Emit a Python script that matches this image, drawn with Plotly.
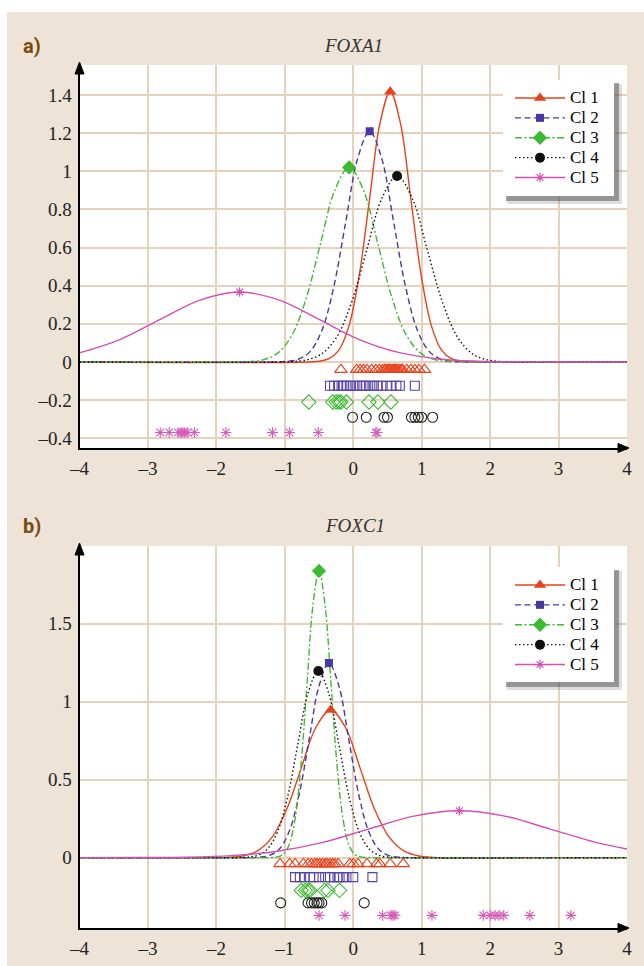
import plotly.graph_objects as go

W, H = 644, 966


def px(x):
    return x / W


def py(y):
    return 1 - y / H


# ---------------- data ----------------
clusters = ["Cl 1", "Cl 2", "Cl 3", "Cl 4", "Cl 5"]

x_ticks = [-4, -3, -2, -1, 0, 1, 2, 3, 4]
x_tick_text = ["–4", "–3", "–2", "–1", "0", "1", "2", "3", "4"]
a_y_ticks = [-0.4, -0.2, 0, 0.2, 0.4, 0.6, 0.8, 1, 1.2, 1.4]
a_y_tick_text = ["–0.4", "–0.2", "0", "0.2", "0.4", "0.6", "0.8", "1", "1.2", "1.4"]
b_y_ticks = [0, 0.5, 1, 1.5]
b_y_tick_text = ["0", "0.5", "1", "1.5"]

# Panel a (FOXA1) density curves
a_c1_x = [-4, -0.66, -0.51, -0.36, -0.21, -0.06, 0.09, 0.24, 0.39, 0.54, 0.69, 0.84, 0.99, 1.14, 1.29, 1.44, 1.59, 1.74, 4]
a_c1_y = [0, 0.0, 0.004, 0.016, 0.062, 0.192, 0.46, 0.859, 1.251, 1.417, 1.251, 0.859, 0.46, 0.192, 0.062, 0.016, 0.004, 0.0, 0]
a_c2_x = [-4, -1.16, -0.985, -0.81, -0.635, -0.46, -0.285, -0.11, 0.065, 0.24, 0.415, 0.59, 0.765, 0.94, 1.115, 1.29, 1.465, 1.64, 4]
a_c2_y = [0, 0.0, 0.003, 0.013, 0.053, 0.164, 0.393, 0.734, 1.068, 1.21, 1.068, 0.734, 0.393, 0.164, 0.053, 0.013, 0.003, 0.0, 0]
a_c3_x = [-4, -1.74, -1.53, -1.32, -1.11, -0.9, -0.69, -0.48, -0.27, -0.06, 0.15, 0.36, 0.57, 0.78, 0.99, 1.2, 1.41, 1.62, 4]
a_c3_y = [0, 0.0, 0.002, 0.011, 0.045, 0.138, 0.331, 0.619, 0.9, 1.02, 0.9, 0.619, 0.331, 0.138, 0.045, 0.011, 0.002, 0.0, 0]
a_c4_x = [-4, -1.12, -0.9, -0.68, -0.46, -0.24, -0.02, 0.2, 0.42, 0.64, 0.86, 1.08, 1.3, 1.52, 1.74, 1.96, 2.18, 2.4, 4]
a_c4_y = [0, 0.0, 0.002, 0.011, 0.043, 0.132, 0.317, 0.591, 0.86, 0.975, 0.86, 0.591, 0.317, 0.132, 0.043, 0.011, 0.002, 0.0, 0]
a_c5_x = [-4, -3.4, -2.82, -2.24, -1.66, -1.08, -0.5, 0.08, 0.66, 1.24, 1.82, 2.4, 2.98, 4]
a_c5_y = [0.048, 0.119, 0.223, 0.324, 0.367, 0.324, 0.223, 0.119, 0.05, 0.016, 0.004, 0.001, 0.0, 0]

# Panel a observations (rug rows)
a_p1 = [-0.18, 0.05, 0.1, 0.15, 0.2, 0.27, 0.33, 0.38, 0.43, 0.46, 0.48, 0.51, 0.53, 0.55, 0.58, 0.6,
        0.62, 0.64, 0.67, 0.7, 0.72, 0.78, 0.84, 0.9, 0.96, 1.04]
a_p2 = [-0.34, -0.28, -0.22, -0.17, -0.14, -0.1, -0.05, 0.0, 0.05, 0.1, 0.15, 0.19, 0.25, 0.3, 0.35,
        0.41, 0.49, 0.56, 0.63, 0.68, 0.9]
a_p3 = [-0.65, -0.3, -0.25, -0.21, -0.18, -0.1, 0.23, 0.36, 0.55]
a_p4 = [-0.01, 0.19, 0.45, 0.5, 0.85, 0.9, 0.95, 1.0, 1.16]
a_p5 = [-2.82, -2.69, -2.56, -2.52, -2.49, -2.46, -2.42, -2.32, -1.86, -1.18, -0.93, -0.51, 0.33, 0.35]

# Panel b (FOXC1) density curves
b_c1_x = [-4, -2.05, -1.835, -1.62, -1.405, -1.19, -0.975, -0.76, -0.545, -0.33, -0.115, 0.1, 0.315, 0.53, 0.745, 0.96, 1.175, 1.39, 4]
b_c1_y = [0, 0.0, 0.002, 0.011, 0.042, 0.128, 0.307, 0.574, 0.836, 0.947, 0.836, 0.574, 0.307, 0.128, 0.042, 0.011, 0.002, 0.0, 0]
b_c2_x = [-4, -1.515, -1.37, -1.225, -1.08, -0.935, -0.79, -0.645, -0.5, -0.355, -0.21, -0.065, 0.08, 0.225, 0.37, 0.515, 0.66, 0.805, 4]
b_c2_y = [0, 0.0, 0.003, 0.014, 0.055, 0.169, 0.405, 0.757, 1.101, 1.248, 1.101, 0.757, 0.405, 0.169, 0.055, 0.014, 0.003, 0.0, 0]
b_c3_x = [-4, -1.2, -1.113, -1.025, -0.938, -0.85, -0.763, -0.675, -0.588, -0.5, -0.413, -0.325, -0.238, -0.15, -0.063, 0.025, 0.113, 0.2, 4]
b_c3_y = [0, 0.001, 0.004, 0.02, 0.081, 0.249, 0.597, 1.115, 1.622, 1.838, 1.622, 1.115, 0.597, 0.249, 0.081, 0.02, 0.004, 0.001, 0]
b_c4_x = [-4, -1.71, -1.56, -1.41, -1.26, -1.11, -0.96, -0.81, -0.66, -0.51, -0.36, -0.21, -0.06, 0.09, 0.24, 0.39, 0.54, 0.69, 4]
b_c4_y = [0, 0.0, 0.003, 0.013, 0.053, 0.162, 0.389, 0.726, 1.056, 1.197, 1.056, 0.726, 0.389, 0.162, 0.053, 0.013, 0.003, 0.0, 0]
b_c5_x = [-4, -3.105, -2.44, -1.775, -1.11, -0.445, 0.22, 0.885, 1.55, 2.215, 2.88, 3.545, 4]
b_c5_y = [0, 0.001, 0.003, 0.013, 0.041, 0.098, 0.183, 0.266, 0.301, 0.266, 0.183, 0.098, 0.055]

# Panel b observations (rug rows)
b_p1 = [-1.07, -0.93, -0.85, -0.73, -0.66, -0.61, -0.56, -0.53, -0.49, -0.45, -0.41, -0.38, -0.34,
        -0.3, -0.27, -0.22, -0.05, 0.0, 0.07, 0.2, 0.34, 0.39, 0.54, 0.73]
b_p2 = [-0.85, -0.78, -0.71, -0.63, -0.58, -0.5, -0.41, -0.34, -0.28, -0.23, -0.2, -0.15, -0.1, 0.0, 0.28]
b_p3 = [-0.76, -0.7, -0.66, -0.63, -0.42, -0.37, -0.2]
b_p4 = [-1.06, -0.66, -0.61, -0.57, -0.53, -0.5, -0.46, 0.16]
b_p5 = [-0.5, -0.12, 0.43, 0.55, 0.58, 0.61, 1.15, 1.9, 2.0, 2.07, 2.13, 2.2, 2.58, 3.18]

rug_levels = [-0.04, -0.125, -0.21, -0.29, -0.37]

# ---------------- styles ----------------
colors = ["#E8421C", "#4A38A2", "#3DBB30", "#111111", "#D34FB4"]
rug_colors = ["#E8421C", "#5543AA", "#3DBB30", "#222222", "#D65CB9"]
dashes = ["solid", "6px,3.5px", "7px,2.5px,2px,2.5px", "1.5px,2.5px", "solid"]
peak_symbols = ["triangle-up", "square", "diamond", "circle", "asterisk-open"]
peak_sizes = [11, 8, 11, 10, 8]
rug_symbols = ["triangle-up-open", "square-open", "diamond-open", "circle-open", "asterisk-open"]
rug_sizes = [11, 9, 11, 10, 9]

BG = "#EDE3D6"
GRID = "#E6D2BC"
SERIF = "Liberation Serif"

panels = [
    dict(curves=[(a_c1_x, a_c1_y), (a_c2_x, a_c2_y), (a_c3_x, a_c3_y), (a_c4_x, a_c4_y), (a_c5_x, a_c5_y)],
         pts=[a_p1, a_p2, a_p3, a_p4, a_p5], xa="x", ya="y", legend="legend"),
    dict(curves=[(b_c1_x, b_c1_y), (b_c2_x, b_c2_y), (b_c3_x, b_c3_y), (b_c4_x, b_c4_y), (b_c5_x, b_c5_y)],
         pts=[b_p1, b_p2, b_p3, b_p4, b_p5], xa="x2", ya="y2", legend="legend2"),
]

fig = go.Figure()

for p in panels:
    # curves
    for i, (cx, cy) in enumerate(p["curves"]):
        fig.add_trace(go.Scatter(
            x=cx, y=cy, mode="lines", xaxis=p["xa"], yaxis=p["ya"],
            line=dict(color=colors[i], width=1.4, dash=dashes[i], shape="spline", smoothing=1.0),
            showlegend=False, hoverinfo="skip"))
    # rug rows
    for i, pts in enumerate(p["pts"]):
        fig.add_trace(go.Scatter(
            x=pts, y=[rug_levels[i]] * len(pts), mode="markers", xaxis=p["xa"], yaxis=p["ya"],
            marker=dict(symbol=rug_symbols[i], size=rug_sizes[i], color=rug_colors[i],
                        line=dict(color=rug_colors[i], width=1.1)),
            showlegend=False, hoverinfo="skip"))
    # peak markers (also the legend entries)
    for i, (cx, cy) in enumerate(p["curves"]):
        k = cy.index(max(cy))
        fig.add_trace(go.Scatter(
            x=[cx[k]], y=[cy[k]], mode="lines+markers",
            name=f'<span style="font-size:17px">{clusters[i]}</span>',
            xaxis=p["xa"], yaxis=p["ya"], legend=p["legend"],
            line=dict(color=colors[i], width=1.4, dash=dashes[i]),
            marker=dict(symbol=peak_symbols[i], size=peak_sizes[i], color=colors[i],
                        line=dict(color=colors[i], width=1.2 if i == 4 else 0)),
            hoverinfo="skip"))

axis_common = dict(showgrid=True, gridcolor=GRID, gridwidth=2, zeroline=False,
                   showline=True, linecolor="black", linewidth=2, ticks="", automargin=False,
                   tickfont=dict(family=SERIF, size=19, color="#222"))

# panel geometry (pixels)
XL, XR = 79.5, 627
A_TOP, A_BOT = 65, 448
B_TOP, B_BOT = 546, 928

legend_common = dict(xanchor="left", yanchor="top", bgcolor="rgba(0,0,0,0)",
                     font=dict(family=SERIF, size=13, color="black"), itemwidth=50,
                     tracegroupgap=0)

fig.update_layout(
    width=W, height=H,
    margin=dict(l=0, r=0, t=0, b=0, pad=0, autoexpand=False),
    paper_bgcolor=BG, plot_bgcolor="white",
    xaxis=dict(domain=[px(XL), px(XR)], range=[-4, 4], tickvals=x_ticks, ticktext=x_tick_text,
               anchor="y", ticklabelstandoff=2, **axis_common),
    yaxis=dict(domain=[py(A_BOT), py(A_TOP)], range=[-0.451, 1.557], tickvals=a_y_ticks,
               ticktext=a_y_tick_text, anchor="x", ticklabelstandoff=2, **axis_common),
    xaxis2=dict(domain=[px(XL), px(XR)], range=[-4, 4], tickvals=x_ticks, ticktext=x_tick_text,
                anchor="y2", ticklabelstandoff=2, **axis_common),
    yaxis2=dict(domain=[py(B_BOT), py(B_TOP)], range=[-0.451, 1.998], tickvals=b_y_ticks,
                ticktext=b_y_tick_text, anchor="x2", ticklabelstandoff=2, **axis_common),
    legend=dict(x=px(510), y=py(83), **legend_common),
    legend2=dict(x=px(510), y=py(570), **legend_common),
    showlegend=True,
)

shapes = []
# white strips at top and left of the page
shapes.append(dict(type="rect", xref="paper", yref="paper", x0=0, x1=1, y0=py(12), y1=1,
                   fillcolor="white", line=dict(width=0), layer="below"))
shapes.append(dict(type="rect", xref="paper", yref="paper", x0=0, x1=px(7), y0=0, y1=1,
                   fillcolor="white", line=dict(width=0), layer="below"))

# legend boxes with shadow
for (bx0, by0, bx1, by1) in [(503, 80, 614, 196), (503, 567, 614, 682)]:
    shapes.append(dict(type="rect", xref="paper", yref="paper",
                       x0=px(bx0 + 4), x1=px(bx1 + 8), y0=py(by1 + 8), y1=py(by0 + 4),
                       fillcolor="rgba(120,120,120,0.25)", line=dict(width=0), layer="above"))
    shapes.append(dict(type="rect", xref="paper", yref="paper",
                       x0=px(bx0 + 3), x1=px(bx1 + 5), y0=py(by1 + 5), y1=py(by0 + 3),
                       fillcolor="rgba(90,90,90,0.55)", line=dict(width=0), layer="above"))
    shapes.append(dict(type="rect", xref="paper", yref="paper",
                       x0=px(bx0), x1=px(bx1), y0=py(by1), y1=py(by0),
                       fillcolor="white", line=dict(width=0), layer="above"))

# axis arrowheads
for (top, bot) in [(A_TOP, A_BOT), (B_TOP, B_BOT)]:
    shapes.append(dict(type="path", xref="paper", yref="paper",
                       path=f"M {px(XL - 4.5)},{py(top + 9)} L {px(XL)},{py(top - 3)} L {px(XL + 4.5)},{py(top + 9)} Z",
                       fillcolor="black", line=dict(color="black", width=1), layer="above"))
    shapes.append(dict(type="path", xref="paper", yref="paper",
                       path=f"M {px(XR - 9)},{py(bot - 4.5)} L {px(XR + 2)},{py(bot)} L {px(XR - 9)},{py(bot + 4.5)} Z",
                       fillcolor="black", line=dict(color="black", width=1), layer="above"))

fig.update_layout(shapes=shapes)

annotations = [
    dict(text="<i>FOXA1</i>", x=px(353), y=py(45), xref="paper", yref="paper", showarrow=False,
         font=dict(family=SERIF, size=19, color="#333"), xanchor="center", yanchor="middle"),
    dict(text="<i>FOXC1</i>", x=px(355), y=py(525), xref="paper", yref="paper", showarrow=False,
         font=dict(family=SERIF, size=19, color="#333"), xanchor="center", yanchor="middle"),
    dict(text="<b>a)</b>", x=px(21), y=py(46), xref="paper", yref="paper", showarrow=False,
         font=dict(family="Roboto", size=20, color="#7B4A0E"), xanchor="left", yanchor="middle"),
    dict(text="<b>b)</b>", x=px(21), y=py(526), xref="paper", yref="paper", showarrow=False,
         font=dict(family="Roboto", size=20, color="#7B4A0E"), xanchor="left", yanchor="middle"),
]
fig.update_layout(annotations=annotations)

fig.write_html(
    "out.html",
    config={"displayModeBar": False},
    post_script="document.body.style.margin='0px';document.body.style.padding='0px';"
                "document.body.style.overflow='hidden';",
)
